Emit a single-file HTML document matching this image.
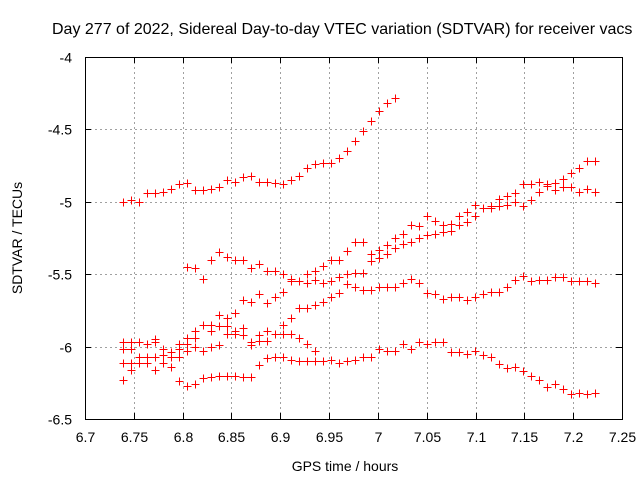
<!DOCTYPE html>
<html><head><meta charset="utf-8"><style>
body{margin:0;background:#fff}
svg{display:block;font-family:"Liberation Sans",sans-serif}
</style></head><body>
<svg id="chart" width="640" height="480" xmlns="http://www.w3.org/2000/svg">
<rect width="640" height="480" fill="#fff"/>
<text x="52" y="34" font-size="16" fill="#000">Day 277 of 2022, Sidereal Day-to-day VTEC variation (SDTVAR) for receiver vacs</text>
<g id="grid"></g>
<g id="axes"></g>
<g id="marks"></g>
<text x="345" y="471" font-size="14" text-anchor="middle">GPS time / hours</text>
<text transform="translate(22,238) rotate(-90)" font-size="14" text-anchor="middle">SDTVAR / TECUs</text>
</svg>
<script>
const xTicks=[6.7,6.75,6.8,6.85,6.9,6.95,7,7.05,7.1,7.15,7.2,7.25];
const xTickLabels=["6.7","6.75","6.8","6.85","6.9","6.95","7","7.05","7.1","7.15","7.2","7.25"];
const yTicks=[-4,-4.5,-5,-5.5,-6,-6.5];
const yTickLabels=["-4","-4.5","-5","-5.5","-6","-6.5"];
const sampleStart=6.7389;
const sampleStep=0.0082;
const s1Start=0;
const s1=[-5.0,-4.99,-5.0,-4.94,-4.94,-4.93,-4.91,-4.88,-4.87,-4.92,-4.92,-4.91,-4.9,-4.85,-4.86,-4.83,-4.82,-4.86,-4.86,-4.87,-4.88,-4.85,-4.82,-4.77,-4.74,-4.73,-4.73,-4.70,-4.65,-4.58,-4.51,-4.44,-4.37,-4.32,-4.28];
const s2Start=8;
const s2=[-5.45,-5.46,-5.53,-5.40,-5.35,-5.38,-5.40,-5.40,-5.46,-5.43,-5.48,-5.48,-5.50,-5.53,-5.55,-5.50,-5.48,-5.44,-5.40,-5.40,-5.34,-5.28,-5.28,-5.36,-5.33,-5.30,-5.25,-5.22,-5.16,-5.17,-5.10,-5.13,-5.16,-5.15,-5.10,-5.07,-5.02,-5.04,-5.03,-4.98,-4.96,-4.94,-4.88,-4.88,-4.86,-4.88,-4.87,-4.84,-4.80,-4.77,-4.72,-4.72];
const s3Start=0;
const s3=[-5.97,-5.97,-5.97,-5.98,-5.95,-6.02,-6.04,-5.98,-5.94,-5.89,-5.85,-5.85,-5.78,-5.80,-5.77,-5.68,-5.69,-5.64,-5.70,-5.66,-5.62,-5.55,-5.55,-5.56,-5.54,-5.56,-5.55,-5.52,-5.50,-5.49,-5.49,-5.41,-5.39,-5.36,-5.32,-5.29,-5.28,-5.25,-5.23,-5.22,-5.21,-5.20,-5.16,-5.14,-5.10,-5.04,-5.04,-5.03,-5.02,-5.00,-5.03,-4.99,-4.93,-4.89,-4.92,-4.90,-4.90,-4.93,-4.91,-4.93];
const s4Start=20;
const s4=[-5.85,-5.80,-5.73,-5.73,-5.71,-5.69,-5.66,-5.63,-5.57,-5.59,-5.61,-5.61,-5.59,-5.59,-5.59,-5.56,-5.53,-5.56,-5.63,-5.64,-5.67,-5.66,-5.66,-5.68,-5.66,-5.64,-5.62,-5.62,-5.59,-5.54,-5.51,-5.55,-5.54,-5.54,-5.52,-5.52,-5.55,-5.55,-5.55,-5.56];
const s5Start=7;
const s5=[-6.24,-6.27,-6.26,-6.22,-6.21,-6.20,-6.20,-6.20,-6.21,-6.21,-6.13,-6.08,-6.07,-6.07,-6.09,-6.10,-6.10,-6.10,-6.10,-6.09,-6.11,-6.10,-6.09,-6.07,-6.07,-6.02,-6.03,-6.03,-5.98,-6.02,-5.97,-5.98,-5.97,-5.97,-6.04,-6.04,-6.05,-6.03,-6.06,-6.07,-6.12,-6.15,-6.14,-6.17,-6.20,-6.23,-6.28,-6.26,-6.29,-6.33,-6.32,-6.33,-6.32];
const s6Start=0;
const s6=[-6.02,-6.02,-6.07,-6.07,-5.97,-6.06,-6.07,-6.02,-5.98,-5.94,-6.03,-5.89,-5.86,-5.86,-5.89,-5.87,-5.97,-5.92,-5.89,-5.91,-5.91,-5.91,-5.94,-5.98,-6.03];
const s7Start=0;
const s7=[-6.11,-6.11,-6.11,-6.11,-6.07,-6.11,-6.14,-6.07,-6.03,-6.00,-6.03,-6.00,-5.99,-5.91,-5.91,-5.92,-5.99,-5.96,-5.96];
const s8Start=0;
const s8=[-6.23,-6.16,null,null,-6.16];
const seriesList=[[s1Start,s1],[s2Start,s2],[s3Start,s3],[s4Start,s4],[s5Start,s5],[s6Start,s6],[s7Start,s7],[s8Start,s8]];

const L=85,R=622,T=57,B=419;
const xMin=6.7,xMax=7.25,yMin=-6.5,yMax=-4;
function xs(v){return L+(v-xMin)/(xMax-xMin)*(R-L);}
function ys(v){return B-(v-yMin)/(yMax-yMin)*(B-T);}
const NS="http://www.w3.org/2000/svg";
function mk(tag,attrs,parent){const e=document.createElementNS(NS,tag);for(const k in attrs)e.setAttribute(k,attrs[k]);parent.appendChild(e);return e;}
const grid=document.getElementById('grid'),axes=document.getElementById('axes'),marks=document.getElementById('marks');
xTicks.forEach((t,i)=>{
  const x=Math.round(xs(t))+0.5;
  if(i>0&&i<xTicks.length-1){
    const g=mk('line',{x1:x,x2:x,y1:T,y2:B,stroke:'#a0a0a0','stroke-dasharray':'2,3','stroke-width':1},grid);
    
    
  }
  const tk=mk('path',{d:`M${x},${B}v-6M${x},${T}v6`,stroke:'#000','stroke-width':1},axes);
  
  
  const lb=mk('text',{x:x,y:B+23,'font-size':14,'text-anchor':'middle'},axes);
  lb.textContent=xTickLabels[i];
  
  
});
yTicks.forEach((t,i)=>{
  const y=Math.round(ys(t))+0.5;
  if(i>0&&i<yTicks.length-1){
    const g=mk('line',{x1:L,x2:R,y1:y,y2:y,stroke:'#a0a0a0','stroke-dasharray':'2,3','stroke-width':1},grid);
    
    
  }
  const tk=mk('path',{d:`M${L},${y}h6M${R},${y}h-6`,stroke:'#000','stroke-width':1},axes);
  
  
  const lb=mk('text',{x:L-13,y:y+5,'font-size':14,'text-anchor':'end'},axes);
  lb.textContent=yTickLabels[i];
  
  
});
const frame=mk('rect',{x:L+0.5,y:T+0.5,width:R-L,height:B-T,fill:'none',stroke:'#000','stroke-width':1},axes);


seriesList.forEach(([st,vals])=>{
  vals.forEach((v,j)=>{
    if(v===null)return;
    const x=Math.round(xs(sampleStart+(st+j)*sampleStep))+0.5;
    const y=Math.round(ys(v))+0.5;
    const p=mk('path',{d:`M${x-4},${y}h8M${x},${y-4}v8`,stroke:'#ff0000','stroke-width':1},marks);
    
    
  });
});
</script>
</body></html>
